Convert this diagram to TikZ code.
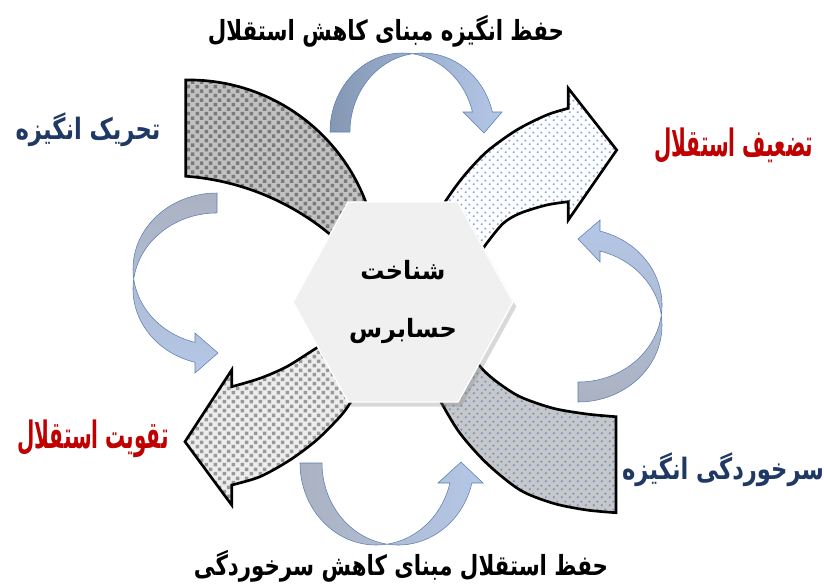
\documentclass[tikz,border=0pt]{standalone}
\usepackage{fontspec}
\usetikzlibrary{shapes.geometric,patterns,shadows}
\TeXXeTstate=1
\newfontfamily\arabicfont[Script=Arabic]{DejaVu Sans}
\definecolor{navy}{HTML}{1F3864}
\definecolor{darkred}{HTML}{C00000}
\definecolor{hexfill}{HTML}{F0F0F0}
\definecolor{tailgray}{HTML}{ABB2C2}
\definecolor{taildark}{HTML}{8497B3}
\definecolor{headblue}{HTML}{B4C7E7}
\definecolor{rimblue}{HTML}{5A7DB0}
\definecolor{dotblue}{HTML}{6F92D4}

% small staggered squares and dots for the big bands
\pgfdeclarepatternformonly{graychecks}{\pgfqpoint{0pt}{0pt}}{\pgfqpoint{7pt}{7pt}}{\pgfqpoint{7pt}{7pt}}{%
  \pgfpathrectangle{\pgfqpoint{0.5pt}{0.5pt}}{\pgfqpoint{2.8pt}{2.8pt}}%
  \pgfpathrectangle{\pgfqpoint{4pt}{4pt}}{\pgfqpoint{2.8pt}{2.8pt}}%
  \pgfusepath{fill}}
\pgfdeclarepatternformonly{bluedots}{\pgfqpoint{0pt}{0pt}}{\pgfqpoint{6pt}{6pt}}{\pgfqpoint{6pt}{6pt}}{%
  \pgfpathcircle{\pgfqpoint{1.5pt}{1.5pt}}{1pt}%
  \pgfpathcircle{\pgfqpoint{4.5pt}{4.5pt}}{1pt}%
  \pgfusepath{fill}}

\tikzset{
  band/.style={draw=black, line width=2pt},
  twist/.style={draw=rimblue, line width=0.4pt},
  lab/.style={font=\arabicfont\bfseries\fontsize{16}{19}\selectfont, yscale=1.3, transform shape},
  biglab/.style={lab, font=\arabicfont\bfseries\fontsize{17}{19}\selectfont},
  redlab/.style={lab, text=darkred, font=\arabicfont\bfseries\fontsize{15}{19}\selectfont, yscale=1.45},
  hexcore/.style={regular polygon, regular polygon sides=6, minimum size=165pt,
    fill=hexfill, draw=white, line width=1pt, yscale=1.05, transform shape,
    drop shadow={shadow xshift=2.5pt, shadow yshift=-3.5pt, opacity=0.3},
    align=center, font=\arabicfont\bfseries\fontsize{18}{42}\selectfont}
}

\begin{document}
\begin{tikzpicture}[x=0.75pt, y=-0.75pt]
\useasboundingbox (0,0) rectangle (824,586);

% big bands
\path[band, preaction={fill=black!24}, pattern=graychecks, pattern color=black!52]
  (185.7,80) arc[start angle=-91, end angle=-5, radius=189]
  -- (362.7,266.8) arc[start angle=-40, end angle=-85.8, radius=255.5] -- cycle;

\path[band, preaction={fill=white}, pattern=bluedots, pattern color=dotblue!80]
  plot[smooth] coordinates {(430,228) (445,202) (463.3,176.7) (486.7,151.7) (516.7,130) (546.7,115) (568.3,108.3)}
  -- (568.3,88.3) -- (616.7,150) -- (568.3,220)
  -- plot[smooth] coordinates {(568.3,201.7) (546.7,205) (520,213.3) (503.3,223.3) (486.7,243.3) (474,262)}
  -- cycle;

\path[band, preaction={fill=black!22}, pattern=bluedots, pattern color=dotblue]
  plot[smooth] coordinates {(432,383) (441.7,403.3) (460,433.3) (486.7,463.3) (520,490) (553.3,503.3) (586.7,510) (616,512.7)}
  -- plot[smooth] coordinates {(616,416.7) (586.7,414) (553.3,408.3) (520,396.7) (496.7,381.7) (481.7,368.3) (470,352)}
  -- cycle;

\path[band, preaction={fill=black!7}, pattern=graychecks, pattern color=black!40]
  plot[smooth] coordinates {(333,338) (313.3,350) (286.7,366.7) (260,378.3) (231.7,386.7)}
  -- (231.7,370) -- (185,441.7) -- (231.7,505)
  -- plot[smooth] coordinates {(231.7,485) (260,476.7) (290,460) (316.7,440) (340,416.7) (350,403.3) (358,390)}
  -- cycle;

% small curved arrows
\path[twist, left color=taildark, right color=headblue]
  (330,132) arc[start angle=180, end angle=345.33, x radius=72.4, y radius=79]
  -- (463,112) -- (484,133) -- (502,112) -- (492.4,112)
  arc[start angle=-14.67, end angle=-180, x radius=72.4, y radius=79] -- cycle;

\path[twist, top color=tailgray, bottom color=headblue]
  (217,193) arc[start angle=270, end angle=105.18, x radius=84, y radius=76]
  -- (195,333) -- (218,353) -- (195,373) -- (195,362.3)
  arc[start angle=105.18, end angle=270, x radius=84, y radius=76] -- cycle;

\path[twist, bottom color=tailgray, top color=headblue]
  (578,402) arc[start angle=90, end angle=-74.82, x radius=84, y radius=76.8]
  -- (600,262) -- (578,239) -- (600,220) -- (600,231.1)
  arc[start angle=-74.82, end angle=90, x radius=84, y radius=76.8] -- cycle;

\path[twist, left color=tailgray, right color=headblue]
  (300,463) arc[start angle=180, end angle=14.12, x radius=76.1, y radius=82]
  -- (438,483) -- (461,462) -- (483,483) -- (471.9,483)
  arc[start angle=14.12, end angle=180, x radius=76.1, y radius=82] -- cycle;

% centre
\node[hexcore] (core) at (403,302) {\beginR شناخت\endR\\\beginR حسابرس\endR};

% labels
\node[lab] (keepmot) at (386,31) {\beginR حفظ انگیزه مبنای کاهش استقلال\endR};
\node[lab] (keepind) at (401,566) {\beginR حفظ استقلال مبنای کاهش سرخوردگی\endR};
\node[biglab, text=navy] (stim) at (88,130) {\beginR تحریک انگیزه\endR};
\node[redlab, anchor=east] (weak) at (818,146) {\beginR تضعیف استقلال\endR};
\node[redlab] (strong) at (93,439) {\beginR تقویت استقلال\endR};
\node[biglab, text=navy] (frust) at (723,470) {\beginR سرخوردگی انگیزه\endR};
\end{tikzpicture}
\end{document}
